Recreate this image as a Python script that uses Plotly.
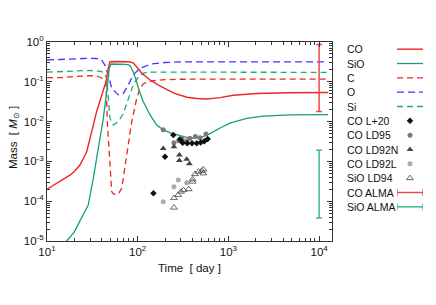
import plotly.graph_objects as go

# The page adds an 8px body margin; build the figure so that it fits the window exactly.
OFF = 8
FW, FH = 436 - 2 * OFF, 305 - 2 * OFF
FONT = "Liberation Sans, Arial, Helvetica, sans-serif"


def px(x):
    return (x - OFF) / FW


def py(y):
    return 1 - (y - OFF) / FH


# ---- model curves (time [day], mass [Msun]) ----
co_t = [10, 13.9, 17.9, 20, 23.1, 27.4, 31.1, 35.3, 40.1, 44.7, 47.4, 49.5, 55, 65, 80, 89, 95, 102, 111, 137, 169, 200, 250, 349, 450, 581, 807, 1133, 2050, 4790, 12600]
co_m = [2.0e-4, 3.1e-4, 4.5e-4, 5.6e-4, 8.1e-4, 1.75e-3, 5.6e-3, 0.018, 0.046, 0.1, 0.22, 0.32, 0.325, 0.325, 0.32, 0.30, 0.26, 0.21, 0.164, 0.111, 0.083, 0.068, 0.052, 0.041, 0.038, 0.037, 0.040, 0.046, 0.051, 0.053, 0.054]

sio_t = [15, 16.5, 20, 22.1, 25, 28.5, 32.4, 36.8, 41.8, 45.5, 48.6, 51, 60, 75, 82, 89, 95, 102, 115, 137, 162, 191, 230, 292, 378, 487, 627, 800, 1040, 1590, 2430, 4790, 12600]
sio_m = [7e-6, 1e-5, 1.7e-5, 2.6e-5, 4.5e-5, 8e-5, 3.8e-4, 2.1e-3, 0.012, 0.056, 0.22, 0.28, 0.28, 0.275, 0.26, 0.18, 0.12, 0.068, 0.032, 0.0147, 8.2e-3, 6.2e-3, 5.2e-3, 4.4e-3, 3.8e-3, 3.9e-3, 5.0e-3, 6.8e-3, 9.1e-3, 0.012, 0.0138, 0.0147, 0.0149]

c_t = [10, 15, 20, 25, 30, 35, 38, 41.7, 44.7, 46.2, 48.6, 51.7, 54, 61, 66.6, 72.5, 78.7, 85.9, 97.5, 106, 115, 131, 184, 300, 1000, 12600]
c_m = [0.127, 0.128, 0.135, 0.14, 0.142, 0.14, 0.132, 0.118, 0.1, 0.01, 1.45e-3, 1.74e-4, 1.5e-4, 1.5e-4, 2.1e-4, 6.7e-4, 2.6e-3, 0.01, 0.038, 0.069, 0.088, 0.103, 0.112, 0.116, 0.117, 0.117]

o_t = [10, 15, 20, 25, 30, 35, 40, 43.6, 47.4, 51.7, 61, 69.4, 78.7, 89, 106, 142, 200, 300, 1000, 12600]
o_m = [0.353, 0.36, 0.375, 0.385, 0.39, 0.385, 0.35, 0.26, 0.148, 0.069, 0.047, 0.051, 0.083, 0.148, 0.22, 0.28, 0.305, 0.315, 0.318, 0.318]

si_t = [10, 15, 20, 25, 30, 35, 40, 43, 45.5, 47.4, 49.5, 53.8, 61, 69.4, 78.7, 89, 102, 115, 142, 300, 1000, 12600]
si_m = [0.175, 0.178, 0.185, 0.19, 0.192, 0.19, 0.18, 0.16, 0.122, 0.038, 0.012, 8.2e-3, 0.01, 0.016, 0.038, 0.083, 0.134, 0.165, 0.175, 0.175, 0.174, 0.173]

# ---- observations ----
l20_t = [149, 200, 247, 292, 313, 352, 397, 447, 495, 542, 591]
l20_m = [1.58e-4, 1.3e-3, 4.6e-3, 3.6e-3, 2.95e-3, 2.85e-3, 2.85e-3, 2.85e-3, 3.0e-3, 3.2e-3, 3.65e-3]

ld95_t = [191, 251, 283, 308, 347, 377, 432, 486, 566]
ld95_m = [6.2e-3, 2.95e-3, 3.3e-3, 3.6e-3, 3.25e-3, 3.8e-3, 4.2e-3, 3.95e-3, 4.9e-3]

ld92n_t = [191, 251, 288, 288, 347, 371]
ld92n_m = [2.1e-3, 2.35e-3, 1.45e-3, 1.05e-3, 1.13e-3, 8.7e-4]

ld92l_t = [191, 251, 280, 347]
ld92l_m = [9.7e-5, 2.3e-4, 3.4e-4, 2.9e-4]

ld94_t = [251, 251, 280, 300, 320, 365, 403, 403, 428, 466, 508, 529, 529]
ld94_m = [6.9e-5, 1.2e-4, 1.44e-4, 1.74e-4, 1.9e-4, 2.0e-4, 3.1e-4, 3.55e-4, 4.8e-4, 5.5e-4, 5.8e-4, 6.3e-4, 5.0e-4]

alma_t = 1e4
co_alma = (0.018, 0.87)     # (low, high)
sio_alma = (3.8e-5, 1.9e-3)

x_tickvals = [10, 100, 1000, 10000]
x_ticktext = ["10<sup>1</sup>", "10<sup>2</sup>", "10<sup>3</sup>", "10<sup>4</sup>"]
y_tickvals = [1e-5, 1e-4, 1e-3, 1e-2, 1e-1, 1]
y_ticktext = ["10<sup>-5</sup>", "10<sup>-4</sup>", "10<sup>-3</sup>", "10<sup>-2</sup>", "10<sup>-1</sup>", "10<sup>0</sup>"]

legend_labels = ["CO", "SiO", "C", "O", "Si", "CO L+20", "CO LD95", "CO LD92N", "CO LD92L", "SiO LD94", "CO ALMA", "SiO ALMA"]

RED = "#f02424"
GREEN = "#16a070"
BLUE = "#3a3aff"
SIGREEN = "#22aa7a"
ALMA_RED = "#f04848"
ALMA_GREEN = "#3cb88c"

fig = go.Figure()


def line(t, m, color, dash=None, width=1.3):
    fig.add_trace(go.Scatter(x=t, y=m, mode="lines", showlegend=False,
                             line=dict(color=color, width=width, dash=dash)))


line(o_t, o_m, BLUE, "7px,4px")
line(si_t, si_m, SIGREEN, "6px,4px")
line(c_t, c_m, RED, "6px,4px")
line(co_t, co_m, RED, None, 1.4)
line(sio_t, sio_m, GREEN, None, 1.3)


def pts(t, m, symbol, color, size, lw=0):
    fig.add_trace(go.Scatter(x=t, y=m, mode="markers", showlegend=False,
                             marker=dict(symbol=symbol, color=color, size=size,
                                         line=dict(width=lw, color=color))))


pts(ld95_t, ld95_m, "circle", "#7a7a7a", 5)
pts(ld92l_t, ld92l_m, "circle", "#ababab", 5)
pts(ld92n_t, ld92n_m, "triangle-up", "#444444", 6)
pts(ld94_t, ld94_m, "triangle-up-open", "#444444", 6, 0.8)
pts(l20_t, l20_m, "diamond", "#111111", 5)


def alma(lohi, color):
    lo, hi = lohi
    c = (lo * hi) ** 0.5
    fig.add_trace(go.Scatter(x=[alma_t], y=[c], mode="markers", showlegend=False,
                             marker=dict(size=1, color="rgba(0,0,0,0)"),
                             error_y=dict(type="data", symmetric=False, array=[hi - c],
                                          arrayminus=[c - lo], color=color,
                                          thickness=1.5, width=3)))


alma(co_alma, ALMA_RED)
alma(sio_alma, ALMA_GREEN)

# ---- custom legend (text left, sample right, gnuplot-like) ----
leg_styles = [
    dict(kind="line", color=RED, dash=None, width=1.4),
    dict(kind="line", color=GREEN, dash=None, width=1.3),
    dict(kind="line", color=RED, dash="6px,4px", width=1.3),
    dict(kind="line", color=BLUE, dash="7px,4px", width=1.3),
    dict(kind="line", color=SIGREEN, dash="6px,4px", width=1.3),
    dict(kind="marker", symbol="diamond", color="#111111", size=5),
    dict(kind="marker", symbol="circle", color="#7a7a7a", size=5),
    dict(kind="marker", symbol="triangle-up", color="#444444", size=6),
    dict(kind="marker", symbol="circle", color="#ababab", size=5),
    dict(kind="marker", symbol="triangle-up-open", color="#444444", size=6),
    dict(kind="err", color=ALMA_RED),
    dict(kind="err", color=ALMA_GREEN),
]
for i, (lab, st) in enumerate(zip(legend_labels, leg_styles)):
    if st["kind"] == "line":
        fig.add_trace(go.Scatter(x=[0, 1], y=[i, i], mode="lines", xaxis="x2", yaxis="y2",
                                 showlegend=False, hoverinfo="skip",
                                 line=dict(color=st["color"], dash=st["dash"], width=st["width"])))
    elif st["kind"] == "marker":
        fig.add_trace(go.Scatter(x=[0.5], y=[i], mode="markers", xaxis="x2", yaxis="y2",
                                 showlegend=False, hoverinfo="skip",
                                 marker=dict(symbol=st["symbol"], color=st["color"], size=st["size"],
                                             line=dict(width=0.8 if "open" in st["symbol"] else 0,
                                                       color=st["color"]))))
    else:
        fig.add_trace(go.Scatter(x=[0, 1], y=[i, i], mode="lines+markers", xaxis="x2", yaxis="y2",
                                 showlegend=False, hoverinfo="skip",
                                 line=dict(color=st["color"], width=1.5),
                                 marker=dict(symbol="line-ns", size=5, color=st["color"],
                                             line=dict(width=1.3, color=st["color"]))))
    fig.add_annotation(x=px(345), xref="paper", y=i, yref="y2", text=lab, showarrow=False,
                       xanchor="left", yanchor="middle", font=dict(family=FONT, size=10.5, color="#111"))

minor_x = [k * 10 ** n for n in range(1, 5) for k in range(2, 10)]
minor_y = [k * 10.0 ** n for n in range(-5, 0) for k in range(2, 10)]

axis_common = dict(showgrid=False, zeroline=False, showline=True, linecolor="#333333", linewidth=1,
                   mirror="allticks", ticks="inside", ticklen=5, tickcolor="#333333", tickwidth=1,
                   automargin=False, tickfont=dict(family=FONT, size=11.5, color="#111"))

fig.update_layout(
    width=FW, height=FH, margin=dict(l=0, r=0, t=0, b=0),
    paper_bgcolor="white", plot_bgcolor="white", template="none",
    xaxis=dict(type="log", range=[1, 4.142], domain=[px(47), px(332)], anchor="y",
               tickvals=x_tickvals, ticktext=x_ticktext,
               minor=dict(tickvals=minor_x, ticks="inside", ticklen=3, tickcolor="#333333"),
               **axis_common),
    yaxis=dict(type="log", range=[-5, 0], domain=[py(241), py(42)], anchor="x",
               tickvals=y_tickvals, ticktext=y_ticktext,
               minor=dict(tickvals=minor_y, ticks="inside", ticklen=3, tickcolor="#333333"),
               **axis_common),
    xaxis2=dict(domain=[px(397), px(423)], range=[0, 1], visible=False, anchor="y2", fixedrange=True),
    yaxis2=dict(domain=[py(214), py(42)], range=[11.5, -0.5], visible=False,
                anchor="x2", fixedrange=True),
    showlegend=False,
)

fig.add_annotation(x=px(189.5), y=py(268), xref="paper", yref="paper", showarrow=False,
                   text="Time  [ day ]", font=dict(family=FONT, size=11.5, color="#111"),
                   xanchor="center", yanchor="middle")
fig.add_annotation(x=px(14), y=py(138), xref="paper", yref="paper", showarrow=False,
                   text="Mass  [ <i>M</i><sub>⊙</sub> ]", textangle=-90,
                   font=dict(family=FONT, size=11.5, color="#111"),
                   xanchor="center", yanchor="middle")

fig.write_html("out.html")
